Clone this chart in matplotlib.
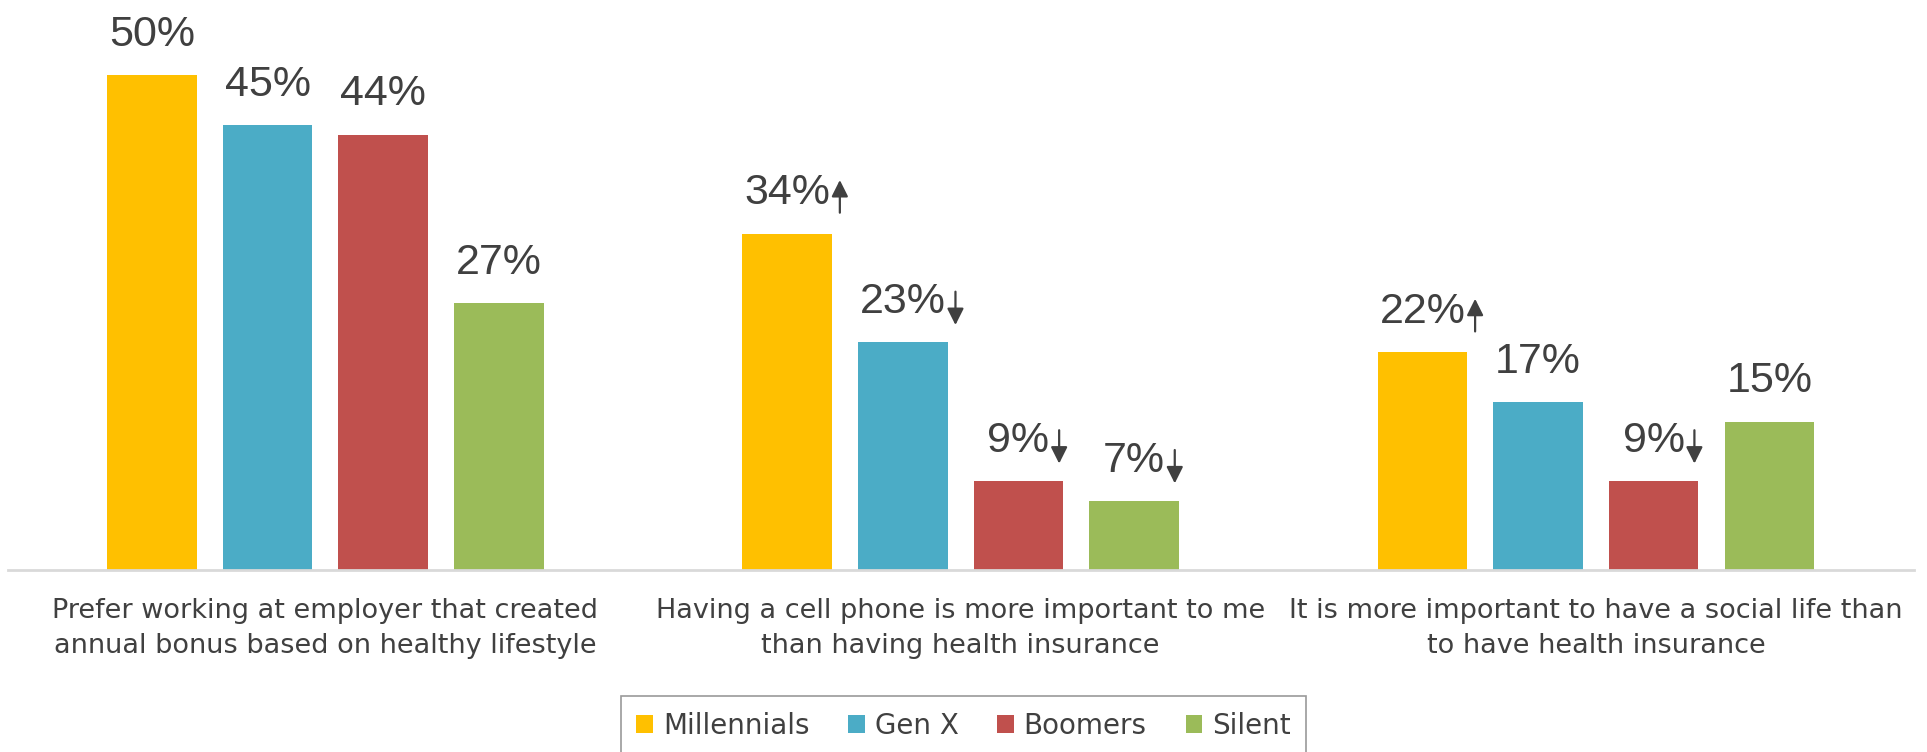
import numpy as np
import matplotlib.pyplot as plt
from matplotlib.text import OffsetFrom
from matplotlib.patches import Patch

categories = ['Prefer working at employer that created\nannual bonus based on healthy lifestyle',
              'Having a cell phone is more important to me\nthan having health insurance',
              'It is more important to have a social life than\nto have health insurance']
series = ['Millennials', 'Gen X', 'Boomers', 'Silent']
values = {
    'Millennials': [50, 34, 22],
    'Gen X': [45, 23, 17],
    'Boomers': [44, 9, 9],
    'Silent': [27, 7, 15],
}
# significance arrows: 1 = up, -1 = down, 0 = none
trends = {
    'Millennials': [0, 1, 1],
    'Gen X': [0, -1, 0],
    'Boomers': [0, -1, -1],
    'Silent': [0, -1, 0],
}
colors = ['#FFC000', '#4BACC6', '#C0504D', '#9BBB59']

text_color = '#404040'
label_font = ['Liberation Sans', 'DejaVu Sans']
cat_font = ['DejaVu Sans']

fig = plt.figure(figsize=(19.27, 7.52), dpi=100)
ax = fig.add_axes([0.004, 0.242, 0.989, 0.758])

x = np.arange(len(categories))
width = 0.141
pitch = 0.182

for i, name in enumerate(series):
    xs = x + (i - 1.5) * pitch
    ax.bar(xs, values[name], width=width, color=colors[i], zorder=2)
    for xi, v, tr in zip(xs, values[name], trends[name]):
        t = ax.annotate(f'{v}%', xy=(xi, v), xytext=(0, 21), textcoords='offset points',
                        ha='center', va='baseline', fontsize=31, color=text_color,
                        family=label_font)
        if tr != 0:
            off = OffsetFrom(t, (1.0, 0.0), unit='points')
            if tr > 0:
                tail, head = (7, 0.5), (7, 24)
            else:
                tail, head = (7, 22), (7, -2)
            ax.annotate('', xy=head, xycoords=off, xytext=tail, textcoords=off,
                        arrowprops=dict(arrowstyle='-|>,head_length=0.5,head_width=0.25',
                                        mutation_scale=20, color=text_color, lw=1.6,
                                        shrinkA=0, shrinkB=0))

ax.set_xlim(-0.5, 2.5)
ax.set_ylim(0, 57.6)
ax.set_yticks([])
ax.set_xticks(x)
ax.set_xticklabels(categories, fontsize=19.5, color=text_color, family=cat_font,
                   linespacing=1.45)
ax.tick_params(axis='x', length=0, pad=20)
for s in ['top', 'right', 'left']:
    ax.spines[s].set_visible(False)
ax.spines['bottom'].set_color('#D9D9D9')
ax.spines['bottom'].set_linewidth(2)

handles = [Patch(facecolor=c, edgecolor='none') for c in colors]
leg = fig.legend(handles, series, loc='lower center', bbox_to_anchor=(0.5, -0.004), ncol=4,
                 frameon=True, fancybox=False, edgecolor='#808080',
                 handlelength=0.6, handleheight=0.6, handletextpad=0.35, columnspacing=1.4,
                 borderpad=0.55, borderaxespad=0, prop={'family': cat_font, 'size': 20})
leg.get_frame().set_linewidth(1.2)
for txt in leg.get_texts():
    txt.set_color(text_color)

fig.savefig('out.png', dpi=100)
